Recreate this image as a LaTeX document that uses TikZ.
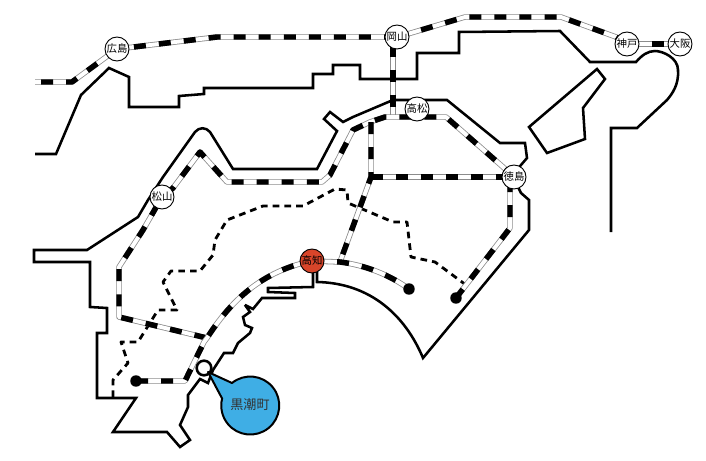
\documentclass[tikz,border=0pt]{standalone}
\usepackage{fontspec}
\newfontfamily\cjk{Noto Sans CJK JP}
\definecolor{kochired}{HTML}{D8452A}
\definecolor{bubble}{HTML}{3FAEE5}
\tikzset{
  x=0.75pt,y=-0.75pt,
  coast/.style={draw=black,line width=1.9pt,line join=miter,miter limit=3},
  rail/.style={draw=black!45,line width=4.1pt,line join=round,
    postaction={draw=white,line width=2.9pt},
    postaction={draw=black,line width=4.1pt,dash pattern=on 9pt off 9.8pt,dash phase=#1}},
  rail/.default=0pt,
  sea/.style={draw=black,line width=2.1pt,dash pattern=on 5pt off 3.8pt,line join=round},
  station/.style={circle,draw=black,line width=0.7pt,fill=white,minimum size=18pt,inner sep=0pt,font=\cjk\fontsize{7.8pt}{8pt}\selectfont},
  endpt/.style={circle,fill=black,minimum size=8.6pt,inner sep=0pt},
}
\begin{document}
\begin{tikzpicture}
\useasboundingbox (0,0) rectangle (706,460);
% station positions
\coordinate (hiroshimaC) at (117,49);
\coordinate (okayamaC) at (397,37);
\coordinate (kobeC) at (627,44);
\coordinate (osakaC) at (680,44);
\coordinate (takamatsuC) at (417,109);
\coordinate (tokushimaC) at (514,177);
\coordinate (matsuyamaC) at (162,197);
\coordinate (kochiC) at (312,261);
% coast
\draw[coast] (35,154) -- (56,154) -- (81,95) -- (109,68) -- (129,77) -- (129,107) -- (179,107) -- (179,96) -- (204,94) -- (204,88) -- (313,88) -- (313,74) -- (333,74) -- (333,65) -- (360,65) -- (360,79) -- (417,79) -- (417,53) -- (459,53) -- (459,32) -- (560,31) -- (590,62) -- (636,62) .. controls (642,55) and (648,51) .. (655,51) .. controls (663,51) and (678,58) .. (678,70) .. controls (679,85) and (672,94) .. (667,100) -- (637,128) -- (611,128) -- (611,232);
\draw[coast] (597,69) -- (605,79) -- (583,108) -- (585,139) -- (547,153) -- (529,127) -- cycle;
\draw[coast] (513,175) -- (521,165) -- (527,158) -- (525,143) -- (500,143) -- (447,100) -- (393,100) -- (353,117) -- (343,122) -- (330,112) -- (324,119) -- (337,131) -- (317,169) -- (233,169) -- (210,132) .. controls (206,127) and (199,127) .. (195,132) -- (163,177) -- (148,200) -- (138,217) -- (87,250) -- (34,250) -- (34,262) -- (90,262) -- (90,307) -- (107,308) -- (107,333) -- (97,333) -- (97,398) -- (136,398) -- (113,432) -- (167,432) -- (180,447) -- (190,440) -- (180,425) -- (188,407) -- (188,395) -- (200,379) -- (208,383) -- (213,370) -- (224,353) -- (233,353) -- (238,343) -- (250,333) -- (252,328) -- (245,325) -- (243,317) -- (250,312) -- (245,305) -- (253,309) -- (262,298) -- (295,298) -- (295,293) -- (268,292) -- (268,288) -- (313,287) -- (313,265);
\draw[coast] (517,185) -- (521,193) -- (529,200) -- (529,230) -- (423,358) .. controls (405,315) and (370,283) .. (317,282) -- (317,265);
% dashed border
\draw[sea] (113,397) -- (113,380) -- (128,363) -- (121,342) -- (138,342) -- (158,310) -- (177,310) -- (163,282) -- (171,271) -- (200,271) -- (213,255) -- (215,240) -- (227,220) -- (263,206) -- (303,206) -- (335,189) -- (347,190) -- (348,203) -- (393,222) -- (407,222) -- (411,257) -- (435,262) -- (470,288);
% rails
\draw[rail=14.3pt] (35,82) -- (72,82) -- (hiroshimaC);
\draw[rail=6pt] (hiroshimaC) -- (217,37) -- (okayamaC);
\draw[rail] (okayamaC) -- (411,33) -- (465,17) -- (561,17) -- (616,37) -- (kobeC);
\draw[rail] (kobeC) -- (osakaC);
\draw[rail] (393,45) -- (393,117);
\draw[rail] (tokushimaC) -- (503,167) -- (446,117) -- (385,117) -- (370,122) -- (353,130) -- (330,175) -- (322,182) -- (227,182) -- (200,152) -- (173,188) -- (matsuyamaC) -- (143,230) -- (119,267) -- (119,317) -- (207,338);
\draw[rail] (371,122) -- (371,177) -- (340,262);
\draw[rail] (371,177) -- (tokushimaC);
\draw[rail] (510,180) -- (510,228) -- (456,298);
\draw[rail] (136,381) -- (185,381) -- (204,342) -- (207,338) .. controls (225,310) and (255,272) .. (kochiC);
\draw[rail] (kochiC) -- (340,262) .. controls (365,265) and (390,275) .. (409,289);
% terminals
\node[endpt] (endA) at (136,381) {};
\node[endpt] (endB) at (409,289) {};
\node[endpt] (endC) at (456,298) {};
% stations
\node[station] (hiroshima) at (hiroshimaC) {広島};
\node[station] (okayama) at (okayamaC) {岡山};
\node[station] (kobe) at (kobeC) {神戸};
\node[station] (osaka) at (osakaC) {大阪};
\node[station] (takamatsu) at (takamatsuC) {高松};
\node[station] (tokushima) at (tokushimaC) {徳島};
\node[station] (matsuyama) at (matsuyamaC) {松山};
\node[station,fill=kochired] (kochi) at (kochiC) {高知};
% callout
\fill[white] (204,368) circle[radius=5.5pt];
\draw[draw=black,line width=1.5pt,fill=bubble,line join=round] (208,372) -- (232,383) arc[start angle=129,end angle=-194,radius=21.75pt] -- cycle;
\node[circle,draw=black,line width=1.9pt,minimum size=11pt,inner sep=0pt] (kurochomark) at (204,368) {};
\node[font=\cjk\fontsize{9.8pt}{11pt}\selectfont,text=black!80,inner sep=0pt] (kuroshio) at (250,405) {黒潮町};
\end{tikzpicture}
\end{document}
